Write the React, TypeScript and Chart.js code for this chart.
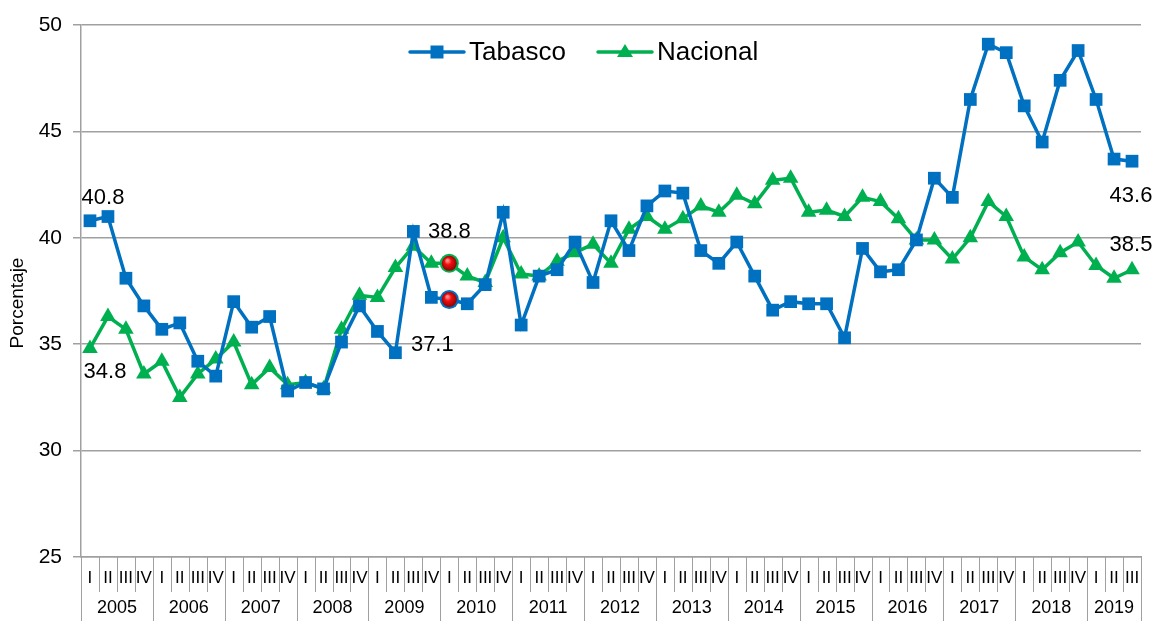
import React, { useEffect, useRef } from "react";
import { Chart, registerables } from "chart.js";

Chart.register(...registerables);

const years = ["2005", "2006", "2007", "2008", "2009", "2010", "2011", "2012", "2013", "2014", "2015", "2016", "2017", "2018", "2019"];
const quarters = ["I", "II", "III", "IV"];
const categories: string[] = years.flatMap((y) => quarters.map((q) => `${q} ${y}`)).slice(0, 59);

const tabasco = [40.8, 41.0, 38.1, 36.8, 35.7, 36.0, 34.2, 33.5, 37.0, 35.8, 36.3, 32.8, 33.2, 32.9, 35.1, 36.8, 35.6, 34.6, 40.3, 37.2, 37.1, 36.9, 37.8, 41.2, 35.9, 38.2, 38.5, 39.8, 37.9, 40.8, 39.4, 41.5, 42.2, 42.1, 39.4, 38.8, 39.8, 38.2, 36.6, 37.0, 36.9, 36.9, 35.3, 39.5, 38.4, 38.5, 39.9, 42.8, 41.9, 46.5, 49.1, 48.7, 46.2, 44.5, 47.4, 48.8, 46.5, 43.7, 43.6];
const nacional = [34.8, 36.3, 35.7, 33.6, 34.2, 32.5, 33.6, 34.3, 35.1, 33.1, 33.9, 33.1, 33.2, 32.9, 35.7, 37.3, 37.2, 38.6, 39.6, 38.8, 38.8, 38.2, 37.9, 40.0, 38.3, 38.2, 38.9, 39.3, 39.7, 38.8, 40.4, 41.0, 40.4, 40.9, 41.5, 41.2, 42.0, 41.6, 42.7, 42.8, 41.2, 41.3, 41.0, 41.9, 41.7, 40.9, 39.9, 39.9, 39.0, 40.0, 41.7, 41.0, 39.1, 38.5, 39.3, 39.8, 38.7, 38.1, 38.5];
const yTicks = [25, 30, 35, 40, 45, 50];
const highlightIndex = 20;

const BLUE = "#0070C0";
const GREEN = "#00B050";
const GRAY = "#a0a0a0";
const FONT = "'Liberation Sans', Arial, sans-serif";

// label placement: dataset index, point index, offset in px
const labelSpecs = [
  { ds: 0, i: 0, dx: 13, dy: -23 },
  { ds: 1, i: 0, dx: 15, dy: 23 },
  { ds: 1, i: 20, dx: 0, dy: -31 },
  { ds: 0, i: 20, dx: -17, dy: 45 },
  { ds: 0, i: 58, dx: -1, dy: 35 },
  { ds: 1, i: 58, dx: -1, dy: -25 },
];

const overlayPlugin = {
  id: "overlay",
  afterDatasetsDraw(chart: any) {
    const ctx = chart.ctx;
    const xs = chart.scales.x;
    const ys = chart.scales.y;
    [
      { data: tabasco, color: BLUE },
      { data: nacional, color: GREEN },
    ].forEach((s) => {
      const x = xs.getPixelForValue(highlightIndex);
      const y = ys.getPixelForValue(s.data[highlightIndex]);
      ctx.save();
      ctx.beginPath();
      ctx.arc(x, y, 9.5, 0, Math.PI * 2);
      ctx.fillStyle = s.color;
      ctx.fill();
      const g = ctx.createRadialGradient(x - 2, y - 3, 1, x, y, 8);
      g.addColorStop(0, "#ff8a8a");
      g.addColorStop(0.35, "#f01010");
      g.addColorStop(1, "#8a0000");
      ctx.beginPath();
      ctx.arc(x, y, 7.5, 0, Math.PI * 2);
      ctx.fillStyle = g;
      ctx.fill();
      ctx.restore();
    });
  },
  afterDraw(chart: any) {
    const ctx = chart.ctx;
    const xs = chart.scales.x;
    const ys = chart.scales.y;
    const area = chart.chartArea;
    const step = xs.getPixelForValue(1) - xs.getPixelForValue(0);
    const n = categories.length;
    ctx.save();
    ctx.strokeStyle = GRAY;
    ctx.lineWidth = 1;
    for (let i = 0; i <= n; i++) {
      const bx = i < n ? xs.getPixelForValue(i) - step / 2 : xs.getPixelForValue(n - 1) + step / 2;
      const isYear = i % 4 === 0 || i === n;
      ctx.beginPath();
      ctx.moveTo(Math.round(bx) + 0.5, area.bottom);
      ctx.lineTo(Math.round(bx) + 0.5, isYear ? chart.height : area.bottom + 35);
      ctx.stroke();
    }
    ctx.fillStyle = "#000";
    ctx.textAlign = "center";
    ctx.textBaseline = "middle";
    ctx.font = `17px ${FONT}`;
    for (let i = 0; i < n; i++) {
      ctx.fillText(quarters[i % 4], xs.getPixelForValue(i), area.bottom + 21);
    }
    ctx.font = `18px ${FONT}`;
    years.forEach((y, yi) => {
      const first = yi * 4;
      const last = Math.min(first + 3, n - 1);
      const cx = (xs.getPixelForValue(first) + xs.getPixelForValue(last)) / 2;
      ctx.fillText(y, cx, area.bottom + 51);
    });
    ctx.save();
    ctx.translate(18, (area.top + area.bottom) / 2 + 12);
    ctx.rotate(-Math.PI / 2);
    ctx.font = `19px ${FONT}`;
    ctx.fillText("Porcentaje", 0, 0);
    ctx.restore();
    ctx.font = `22px ${FONT}`;
    labelSpecs.forEach((l) => {
      const data = l.ds === 0 ? tabasco : nacional;
      const x = xs.getPixelForValue(l.i) + l.dx;
      const y = ys.getPixelForValue(data[l.i]) + l.dy;
      ctx.fillText(data[l.i].toFixed(1), x, y);
    });
    const ly = 52;
    const items = [
      { label: "Tabasco", color: BLUE, x0: 410, shape: "rect" },
      { label: "Nacional", color: GREEN, x0: 598, shape: "tri" },
    ];
    ctx.font = `26px ${FONT}`;
    ctx.textAlign = "left";
    items.forEach((it) => {
      ctx.strokeStyle = it.color;
      ctx.lineWidth = 3.5;
      ctx.lineCap = "round";
      ctx.beginPath();
      ctx.moveTo(it.x0, ly);
      ctx.lineTo(it.x0 + 54, ly);
      ctx.stroke();
      ctx.fillStyle = it.color;
      const mx = it.x0 + 27;
      if (it.shape === "rect") {
        ctx.fillRect(mx - 6.5, ly - 6.5, 13, 13);
      } else {
        ctx.beginPath();
        ctx.moveTo(mx, ly - 8);
        ctx.lineTo(mx + 8, ly + 5);
        ctx.lineTo(mx - 8, ly + 5);
        ctx.closePath();
        ctx.fill();
      }
      ctx.fillStyle = "#000";
      ctx.fillText(it.label, it.x0 + 59, ly + 1);
    });
    ctx.restore();
  },
};

export default function App() {
  const ref = useRef<HTMLCanvasElement | null>(null);
  useEffect(() => {
    document.body.style.margin = "0";
    const canvas = ref.current;
    if (!canvas) return;
    const chart = new Chart(canvas, {
      type: "line",
      data: {
        labels: categories,
        datasets: [
          {
            label: "Tabasco",
            data: tabasco,
            borderColor: BLUE,
            backgroundColor: BLUE,
            borderWidth: 3.5,
            pointStyle: "rect",
            pointRadius: 9,
            pointHoverRadius: 9,
            pointBorderWidth: 0,
            tension: 0,
          },
          {
            label: "Nacional",
            data: nacional,
            borderColor: GREEN,
            backgroundColor: GREEN,
            borderWidth: 3.5,
            pointStyle: "triangle",
            pointRadius: 9,
            pointHoverRadius: 9,
            pointBorderWidth: 0,
            tension: 0,
          },
        ],
      },
      options: {
        animation: false,
        responsive: true,
        maintainAspectRatio: false,
        layout: { padding: { left: 0, right: 17, top: 25, bottom: 0 } },
        plugins: {
          legend: { display: false },
          tooltip: { enabled: false },
        },
        scales: {
          x: {
            type: "category",
            offset: true,
            grid: { display: false },
            border: { display: true, color: GRAY, width: 1.5 },
            ticks: { display: false },
            afterFit: (s: any) => {
              s.height = 64;
            },
          },
          y: {
            min: 25,
            max: 50,
            afterBuildTicks: (s: any) => {
              s.ticks = yTicks.map((v) => ({ value: v }));
            },
            grid: { color: GRAY, lineWidth: 1.5, tickLength: 8 },
            border: { display: true, color: GRAY, width: 1.5 },
            ticks: {
              color: "#000",
              padding: 11,
              font: { family: FONT, size: 21 },
            },
            afterFit: (s: any) => {
              s.width = 81;
            },
          },
        },
      },
      plugins: [overlayPlugin],
    });
    return () => chart.destroy();
  }, []);
  return (
    <div style={{ width: 1158, height: 621, position: "relative" }}>
      <canvas ref={ref} />
    </div>
  );
}
